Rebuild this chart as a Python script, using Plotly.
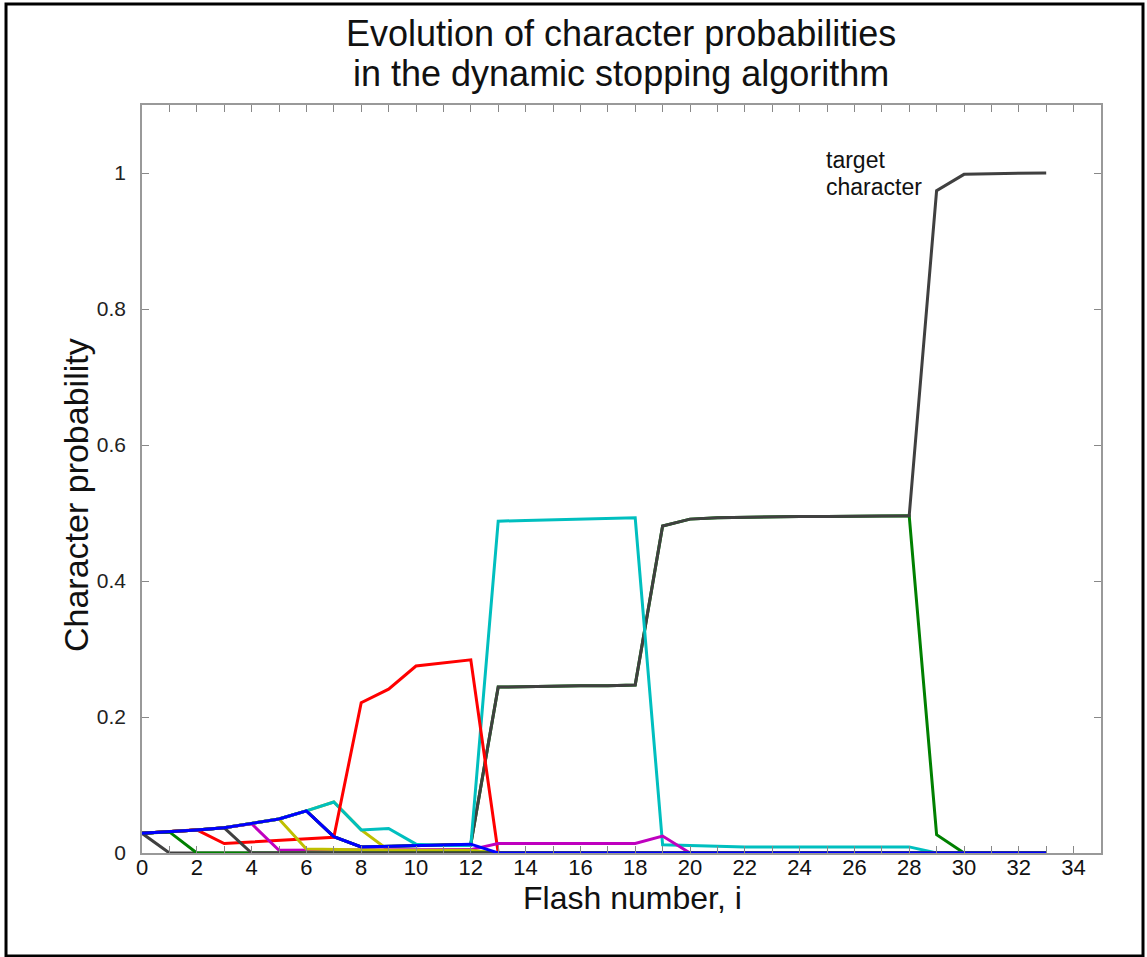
import plotly.graph_objects as go

# ---------------- data ----------------
flash = list(range(34))

# probability of the target character
target = [0.029, 0.031, 0.034, 0.037, 0.043, 0.050, 0.062, 0.024, 0.009, 0.010, 0.012, 0.012,
          0.013, 0.244, 0.245, 0.245, 0.246, 0.246, 0.247, 0.481, 0.491, 0.493, 0.494, 0.495,
          0.495, 0.495, 0.495, 0.495, 0.496, 0.974, 0.998, 0.999, 1.000, 1.000]
green_b = [0.029, 0.031, 0.034, 0.037, 0.043, 0.050, 0.062, 0.024, 0.009, 0.010, 0.012, 0.012,
           0.013, 0.244, 0.245, 0.245, 0.246, 0.246, 0.247, 0.481, 0.491, 0.493, 0.494, 0.495,
           0.495, 0.495, 0.495, 0.495, 0.496, 0.027, 0.0, 0.0, 0.0, 0.0]
cyan = [0.029, 0.031, 0.034, 0.037, 0.043, 0.050, 0.062, 0.075, 0.034, 0.036, 0.013, 0.011,
        0.011, 0.488, 0.489, 0.490, 0.491, 0.492, 0.493, 0.012, 0.011, 0.009, 0.009, 0.009,
        0.009, 0.009, 0.009, 0.009, 0.009, 0.0, 0.0, 0.0, 0.0, 0.0]
red = [0.029, 0.031, 0.034, 0.014, 0.016, 0.018, 0.020, 0.023, 0.221, 0.241, 0.275, 0.280,
       0.284, 0.0, 0.0, 0.0, 0.0, 0.0, 0.0, 0.0, 0.0, 0.0, 0.0, 0.0,
       0.0, 0.0, 0.0, 0.0, 0.0, 0.0, 0.0, 0.0, 0.0, 0.0]
magenta = [0.029, 0.031, 0.034, 0.037, 0.043, 0.004, 0.004, 0.004, 0.004, 0.004, 0.004, 0.004,
           0.005, 0.014, 0.014, 0.014, 0.014, 0.014, 0.014, 0.025, 0.0, 0.0, 0.0, 0.0,
           0.0, 0.0, 0.0, 0.0, 0.0, 0.0, 0.0, 0.0, 0.0, 0.0]
yellow_a = [0.029, 0.031, 0.034, 0.037, 0.043, 0.050, 0.006, 0.005, 0.004, 0.004, 0.004, 0.004,
            0.004, 0.0, 0.0, 0.0, 0.0, 0.0, 0.0, 0.0, 0.0, 0.0, 0.0, 0.0,
            0.0, 0.0, 0.0, 0.0, 0.0, 0.0, 0.0, 0.0, 0.0, 0.0]
yellow_b = [0.029, 0.031, 0.034, 0.037, 0.043, 0.050, 0.062, 0.075, 0.034, 0.004, 0.003, 0.003,
            0.003, 0.0, 0.0, 0.0, 0.0, 0.0, 0.0, 0.0, 0.0, 0.0, 0.0, 0.0,
            0.0, 0.0, 0.0, 0.0, 0.0, 0.0, 0.0, 0.0, 0.0, 0.0]
gray_a = [0.029, 0.0, 0.0, 0.0, 0.0, 0.0, 0.0, 0.0, 0.0, 0.0, 0.0, 0.0,
          0.0, 0.0, 0.0, 0.0, 0.0, 0.0, 0.0, 0.0, 0.0, 0.0, 0.0, 0.0,
          0.0, 0.0, 0.0, 0.0, 0.0, 0.0, 0.0, 0.0, 0.0, 0.0]
green_a = [0.029, 0.031, 0.0, 0.0, 0.0, 0.0, 0.0, 0.0, 0.0, 0.0, 0.0, 0.0,
           0.0, 0.0, 0.0, 0.0, 0.0, 0.0, 0.0, 0.0, 0.0, 0.0, 0.0, 0.0,
           0.0, 0.0, 0.0, 0.0, 0.0, 0.0, 0.0, 0.0, 0.0, 0.0]
gray_b = [0.029, 0.031, 0.034, 0.037, 0.0, 0.0, 0.0, 0.0, 0.0, 0.0, 0.0, 0.0,
          0.0, 0.0, 0.0, 0.0, 0.0, 0.0, 0.0, 0.0, 0.0, 0.0, 0.0, 0.0,
          0.0, 0.0, 0.0, 0.0, 0.0, 0.0, 0.0, 0.0, 0.0, 0.0]
blue = [0.029, 0.031, 0.034, 0.037, 0.043, 0.050, 0.062, 0.024, 0.009, 0.010, 0.012, 0.012,
        0.013, 0.0, 0.0, 0.0, 0.0, 0.0, 0.0, 0.0, 0.0, 0.0, 0.0, 0.0,
        0.0, 0.0, 0.0, 0.0, 0.0, 0.0, 0.0, 0.0, 0.0, 0.0]

x_ticks = list(range(0, 35, 2))
y_ticks = [0, 0.2, 0.4, 0.6, 0.8, 1]
y_tick_text = ["0", "0.2", "0.4", "0.6", "0.8", "1"]

GREEN = "#008000"
BLUE = "#0000FF"
RED = "#FF0000"
CYAN = "#00BFBF"
MAGENTA = "#BF00BF"
YELLOW = "#BFBF00"
DGRAY = "#404040"

series = [
    (green_b, GREEN),
    (target, DGRAY),
    (yellow_b, YELLOW),
    (cyan, CYAN),
    (red, RED),
    (magenta, MAGENTA),
    (yellow_a, YELLOW),
    (gray_a, DGRAY),
    (green_a, GREEN),
    (gray_b, DGRAY),
    (blue, BLUE),
]

fig = go.Figure()
for vals, col in series:
    fig.add_trace(go.Scatter(x=flash, y=vals, mode="lines",
                             line=dict(color=col, width=3), showlegend=False,
                             hoverinfo="skip"))

FONT = "Liberation Sans, Arial, sans-serif"
TXT = "#111"

# plot area in pixels: x 142..1101, y 105..853
def px_x(px):
    return (px - 142) / 959.0

def px_y(py):
    return (853 - py) / 748.0

annotations = [
    dict(x=px_x(621), y=px_y(33), xref="paper", yref="paper",
         text="Evolution of character probabilities", showarrow=False,
         xanchor="center", yanchor="middle", font=dict(family=FONT, size=36, color=TXT)),
    dict(x=px_x(621), y=px_y(73), xref="paper", yref="paper",
         text="in the dynamic stopping algorithm", showarrow=False,
         xanchor="center", yanchor="middle", font=dict(family=FONT, size=36, color=TXT)),
    dict(x=px_x(632), y=px_y(898), xref="paper", yref="paper",
         text="Flash number, i", showarrow=False,
         xanchor="center", yanchor="middle", font=dict(family=FONT, size=32, color=TXT)),
    dict(x=px_x(76), y=px_y(495), xref="paper", yref="paper",
         text="Character probability", showarrow=False, textangle=-90,
         xanchor="center", yanchor="middle", font=dict(family=FONT, size=34, color=TXT)),
    dict(x=24.9, y=1.019, xref="x", yref="y", text="target",
         showarrow=False, xanchor="left", yanchor="middle",
         font=dict(family=FONT, size=23, color=TXT)),
    dict(x=24.9, y=0.979, xref="x", yref="y", text="character",
         showarrow=False, xanchor="left", yanchor="middle",
         font=dict(family=FONT, size=23, color=TXT)),
]

fig.update_layout(
    width=1147, height=957,
    margin=dict(l=142, r=46, t=105, b=104),
    paper_bgcolor="white", plot_bgcolor="white",
    xaxis=dict(range=[0, 35], tickvals=x_ticks, ticks="inside", ticklen=7,
               tickcolor="#888", showline=True, linecolor="#999", linewidth=1.5,
               mirror="ticks", showgrid=False, zeroline=False,
               minor=dict(dtick=1, tick0=0, ticks="inside", ticklen=7, tickcolor="#888"),
               tickfont=dict(family=FONT, size=22, color=TXT),
               ticklabelstandoff=-6),
    yaxis=dict(range=[0, 1.1], tickvals=y_ticks, ticktext=y_tick_text, ticks="inside",
               ticklen=7, tickcolor="#888", showline=True, linecolor="#999", linewidth=1.5,
               mirror="ticks", showgrid=False, zeroline=False,
               tickfont=dict(family=FONT, size=21, color="#222"),
               ticklabelstandoff=10),
    annotations=annotations,
    shapes=[dict(type="rect", xref="paper", yref="paper",
                 x0=-0.1418, x1=1.0438, y0=-0.1377, y1=1.135,
                 line=dict(color="black", width=3), fillcolor="rgba(0,0,0,0)", layer="above")],
)

fig.write_html("out.html")
